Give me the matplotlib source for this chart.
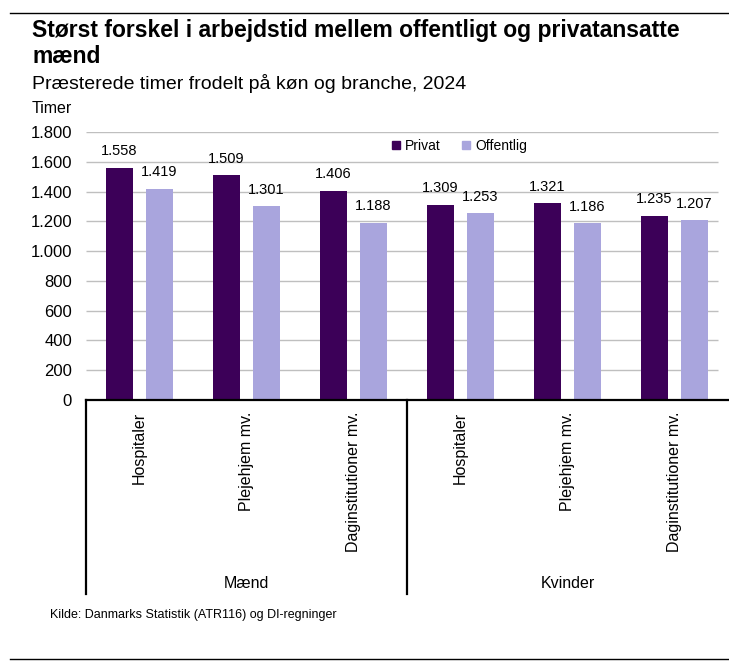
import numpy as np
import matplotlib
matplotlib.use("Agg")
import matplotlib.pyplot as plt
from matplotlib.patches import Patch
from matplotlib.ticker import FuncFormatter

plt.rcParams['font.family'] = ['Liberation Sans', 'DejaVu Sans']

# data
groups = ["Mænd", "Kvinder"]
branches = ["Hospitaler", "Plejehjem mv.", "Daginstitutioner mv."]
privat = [1558, 1509, 1406, 1309, 1321, 1235]
offentlig = [1419, 1301, 1188, 1253, 1186, 1207]
series_names = ["Privat", "Offentlig"]
yticks = [0, 200, 400, 600, 800, 1000, 1200, 1400, 1600, 1800]

c_priv = "#3C0058"
c_off = "#A9A5DD"

W, H = 729, 671
fig = plt.figure(figsize=(W / 100, H / 100), dpi=100)

# axes in pixel layout
left, right, top, bottom = 86, 728, 132, 400
ax = fig.add_axes([left / W, 1 - bottom / H, (right - left) / W, (bottom - top) / H])

x = np.arange(len(privat))
bw = 0.25
off = 0.187
b1 = ax.bar(x - off, privat, bw, color=c_priv, zorder=3)
b2 = ax.bar(x + off, offentlig, bw, color=c_off, zorder=3)

ax.set_xlim(-0.5, len(privat) - 0.5)
ax.set_ylim(0, 1800)
ax.set_yticks(yticks)
ax.yaxis.set_major_formatter(FuncFormatter(lambda v, p: f"{int(v):,}".replace(",", ".")))
ax.tick_params(axis='y', length=0, pad=10, labelsize=12)
ax.set_xticks([])

# gridlines stop a little short of the right edge
for yv in yticks[1:]:
    ax.hlines(yv, -0.5, 5.41, color="#BFBFBF", lw=1, zorder=1)

for s in ["top", "right", "left"]:
    ax.spines[s].set_visible(False)
ax.spines["bottom"].set_linewidth(1.6)
ax.spines["bottom"].set_zorder(4)

# value labels
for bars, vals in [(b1, privat), (b2, offentlig)]:
    for r, v in zip(bars, vals):
        ax.annotate(f"{v:,}".replace(",", "."), (r.get_x() + r.get_width() / 2, v),
                    xytext=(0, 12), textcoords="offset points",
                    ha="center", va="center", fontsize=10.5)

# category axis: branch labels, group labels, dividers
tr = ax.get_xaxis_transform()
ylab = (bottom - 412) / (bottom - top)
ygrp = (bottom - 584) / (bottom - top)
ydiv = (bottom - 594) / (bottom - top)
for i in range(len(privat)):
    ax.text(i, ylab, branches[i % 3], transform=tr, rotation=90,
            ha="center", va="top", fontsize=11.5)
for g, name in enumerate(groups):
    ax.text(g * 3 + 1, ygrp, name, transform=tr, ha="center", va="center", fontsize=11.5)
for xd in [-0.5, 2.5]:
    ax.plot([xd, xd], [0, ydiv], transform=tr, color="black", lw=1.6, clip_on=False)

# legend
handles = [Patch(color=c_priv), Patch(color=c_off)]
fig.legend(handles, series_names, loc="center left",
           bbox_to_anchor=(392 / W, 1 - 146 / H), ncol=2, frameon=False,
           fontsize=10, handlelength=0.55, handleheight=0.55, handletextpad=0.35,
           columnspacing=1.6, borderpad=0, borderaxespad=0)

# titles and notes
fig.text(32 / W, 1 - 37 / H, "Størst forskel i arbejdstid mellem offentligt og privatansatte",
         fontsize=16.5, fontweight="bold", va="baseline")
fig.text(32 / W, 1 - 63 / H, "mænd", fontsize=16.5, fontweight="bold", va="baseline")
fig.text(32 / W, 1 - 89 / H, "Præsterede timer frodelt på køn og branche, 2024",
         fontsize=14, va="baseline")
fig.text(32 / W, 1 - 113 / H, "Timer", fontsize=11.5, va="baseline")
fig.text(50 / W, 1 - 615 / H, "Kilde: Danmarks Statistik (ATR116) og DI-regninger",
         fontsize=9, va="center")

# top and bottom rules
fig.add_artist(plt.Line2D([10 / W, 1], [1 - 12.5 / H] * 2, color="black", lw=1))
fig.add_artist(plt.Line2D([10 / W, 1], [1 - 659 / H] * 2, color="black", lw=1))

fig.savefig("out.png", dpi=100)
